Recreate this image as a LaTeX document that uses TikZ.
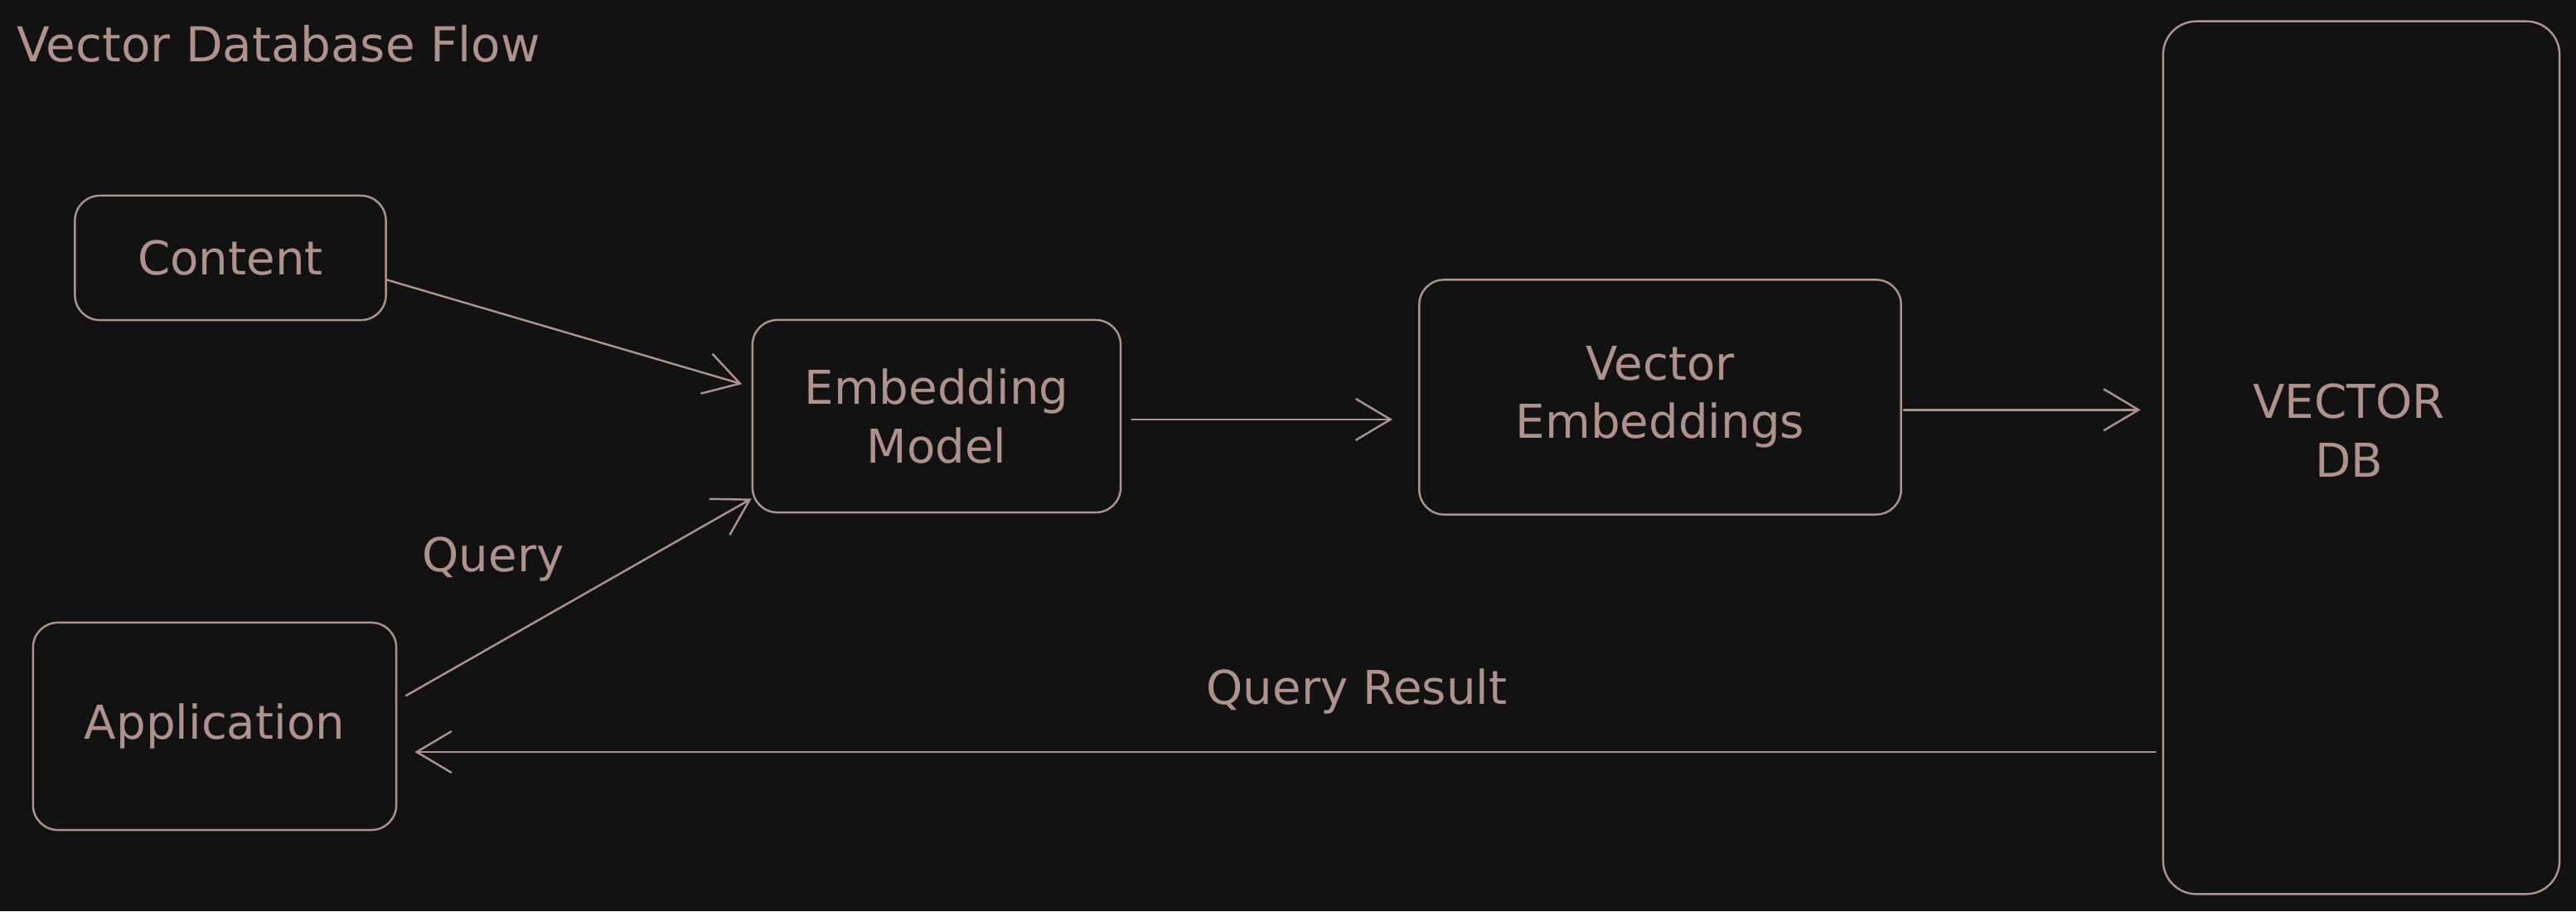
\documentclass[tikz,border=0pt]{standalone}
\usepackage{fontspec}
\setmainfont{DejaVu Sans}
\usetikzlibrary{arrows.meta}
\definecolor{ink}{HTML}{B0928A}
\definecolor{bg}{HTML}{121212}
\tikzset{
	box/.style={draw=ink, line width=0.7pt, rounded corners=0.3cm, text=ink, align=center, inner sep=0pt},
	lbl/.style={text=ink, align=center, inner sep=0pt},
	arr/.style={draw=ink, line width=0.7pt, -{Straight Barb[length=0.42cm, width=0.5cm, line width=0.7pt]}},
}
\begin{document}
\begin{tikzpicture}[x=0.01cm, y=-0.01cm, font=\fontsize{16}{20}\selectfont, line join=round, line cap=round]
			\def \W{3108}
			\def \H{1099}
			\fill[bg] (0,0) rectangle (\W,\H);
			\useasboundingbox (0,0) rectangle (\W,\H);
			\node[lbl, anchor=west, font=\fontsize{16.5}{20}\selectfont] (title) at (20,53) {Vector Database Flow};
			% boxes
			\node[box, minimum width=3.75cm, minimum height=1.5cm] (content) at (278,311) {Content};
			\node[box, minimum width=4.44cm, minimum height=2.32cm] (embed) at (1130,502) {Embedding\\Model};
			\node[box, minimum width=5.81cm, minimum height=2.83cm] (vemb) at (2003,479) {Vector\\Embeddings};
			\node[box, minimum width=4.38cm, minimum height=2.5cm] (app) at (259,876) {Application};
			\node[box, rounded corners=0.4cm, minimum width=4.78cm, minimum height=10.52cm] (vdb) at (2849,552) {};
			\node[lbl] (vdbtext) at (2834,519) {VECTOR\\DB};
			% arrows
			\draw[arr, shorten >=0.12cm] (content.-8) -- (embed.171);
			\draw[arr, shorten <=0.12cm] (app.8) -- (embed.204);
			\draw[arr, shorten <=0.12cm, shorten >=0.31cm] (embed.-1.3) -- (embed.-1.3 -| vemb.west);
			\draw[arr, shorten <=0.02cm, shorten >=0.26cm] (vemb.-3.4) -- (vemb.-3.4 -| vdb.west);
			\draw[arr, shorten <=0.08cm, shorten >=0.21cm] (vdb.west |- app.-8) -- (app.-8);
			\node[lbl] (query) at (595,674) {Query};
			\node[lbl] (qres) at (1637,834) {Query Result};
			\end{tikzpicture}
\end{document}
